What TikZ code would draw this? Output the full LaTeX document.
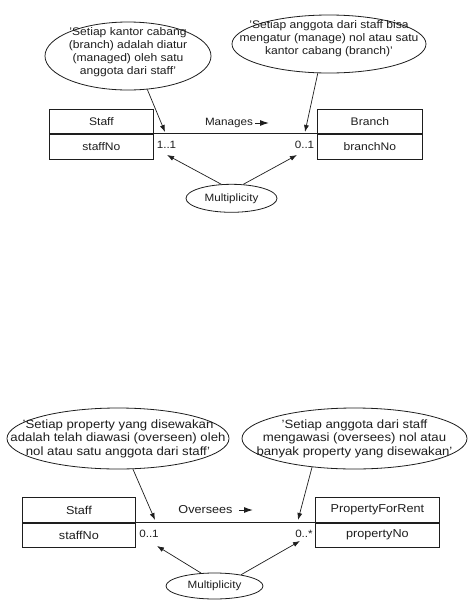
\documentclass[tikz,border=0pt]{standalone}
\usepackage{fontspec}
\setmainfont{Liberation Sans}[FakeStretch=1.1]
\usetikzlibrary{shapes.geometric,arrows.meta}
\definecolor{ink}{HTML}{1E1E1E}
\begin{document}
\begin{tikzpicture}[x=1pt,y=-1pt,
  every node/.style={text=ink},
  ln/.style={draw=ink, line width=0.8pt},
  bubble/.style={ellipse, draw=ink, line width=0.8pt, inner sep=0pt},
  bubtxtA/.style={align=center, inner sep=0pt, font=\fontsize{11}{13}\selectfont},
  bubtxtB/.style={align=center, inner sep=0pt, font=\fontsize{12}{13.5}\selectfont},
  cls/.style={rectangle, draw=ink, line width=0.8pt, inner sep=0pt, anchor=north west},
  clsA/.style={cls, font=\fontsize{11}{13}\selectfont},
  clsB/.style={cls, font=\fontsize{11.5}{13}\selectfont},
  lbl/.style={inner sep=0pt, font=\fontsize{10.6}{12}\selectfont},
  arr/.style={draw=ink, line width=0.7pt, -{Latex[length=7pt,width=5pt]}},
  dirarr/.style={draw=ink, line width=1pt, -{Latex[length=9pt,width=6pt]}},
]
\fill[white] (0,0) rectangle (469,606);
\useasboundingbox (0,0) rectangle (469,606);

% ---------------- TOP: Manages ----------------
\node[bubble, minimum width=166, minimum height=68] (e1) at (128,56) {};
\node[bubtxtA] (e1t) at ([yshift=4pt]e1.center) {'Setiap kantor cabang\\(branch) adalah diatur\\(managed) oleh satu\\anggota dari staff'};
\node[bubble, minimum width=194, minimum height=58] (e2) at (329,44) {};
\node[bubtxtA] (e2t) at ([yshift=5pt]e2.center) {'Setiap anggota dari staff bisa\\mengatur (manage) nol atau satu\\kantor cabang (branch)'};

\node[clsA, minimum width=104, minimum height=24] (staff1) at (49,109) {Staff};
\node[clsA, minimum width=104, minimum height=25] (staff1a) at (staff1.south west) {staffNo};
\node[clsA, minimum width=105, minimum height=24] (branch) at (317,109) {Branch};
\node[clsA, minimum width=105, minimum height=25] (brancha) at (branch.south west) {branchNo};

\draw[ln] (staff1.south east) -- (branch.south west);

\node[lbl] (manages) at (229,123) {Manages};
\coordinate (mgA) at (255,123);
\coordinate (mgB) at (269,123);
\draw[dirarr] (mgA) -- (mgB);

\node[lbl] (m11) at (166.5,144.5) {1..1};
\node[lbl] (m01) at (304.5,144.5) {0..1};

\node[bubble, minimum width=91, minimum height=28] (mult1) at (231.5,198.3) {};
\node[lbl] (mult1t) at (mult1.center) {Multiplicity};

\coordinate (t1) at (165,132);
\coordinate (t2) at (305,132);
\coordinate (t3) at (167,155);
\coordinate (t4) at (297,155);
\draw[arr] (e1.-60) -- (t1);
\draw[arr] (e2.-111) -- (t2);
\draw[arr] (mult1.126) -- (t3);
\draw[arr] (mult1.50) -- (t4);

% ---------------- BOTTOM: Oversees ----------------
\node[bubble, minimum width=222, minimum height=61] (e3) at (118,438.5) {};
\node[bubtxtB] (e3t) at (e3.center) {'Setiap property yang disewakan\\adalah telah diawasi (overseen) oleh\\nol atau satu anggota dari staff'};
\node[bubble, minimum width=225, minimum height=61] (e4) at (354.5,438.5) {};
\node[bubtxtB] (e4t) at (e4.center) {'Setiap anggota dari staff\\mengawasi (oversees) nol atau\\banyak property yang disewakan'};

\node[clsB, minimum width=113, minimum height=25] (staff2) at (22,497) {Staff};
\node[clsB, minimum width=113, minimum height=24] (staff2a) at (staff2.south west) {staffNo};
\node[clsB, minimum width=124, minimum height=25] (prop) at (315,497) {PropertyForRent};
\node[clsB, minimum width=124, minimum height=24] (propa) at (prop.south west) {propertyNo};

\draw[ln] (staff2.south east) -- (prop.south west);

\node[lbl, font=\fontsize{11.5}{13}\selectfont] (oversees) at (205.5,510) {Oversees};
\coordinate (ovA) at (239,510);
\coordinate (ovB) at (253,510);
\draw[dirarr] (ovA) -- (ovB);

\node[lbl] (m01b) at (149,533.5) {0..1};
\node[lbl] (m0s) at (304,533.5) {0..*};

\node[bubble, minimum width=97, minimum height=26] (mult2) at (214.5,586) {};
\node[lbl] (mult2t) at (mult2.center) {Multiplicity};

\coordinate (t5) at (155,520);
\coordinate (t6) at (298,520);
\coordinate (t7) at (157,546);
\coordinate (t8) at (300,541);
\draw[arr] (e3.-64) -- (t5);
\draw[arr] (e4.-146) -- (t6);
\draw[arr] (mult2.136) -- (t7);
\draw[arr] (mult2.23) -- (t8);
\end{tikzpicture}
\end{document}
